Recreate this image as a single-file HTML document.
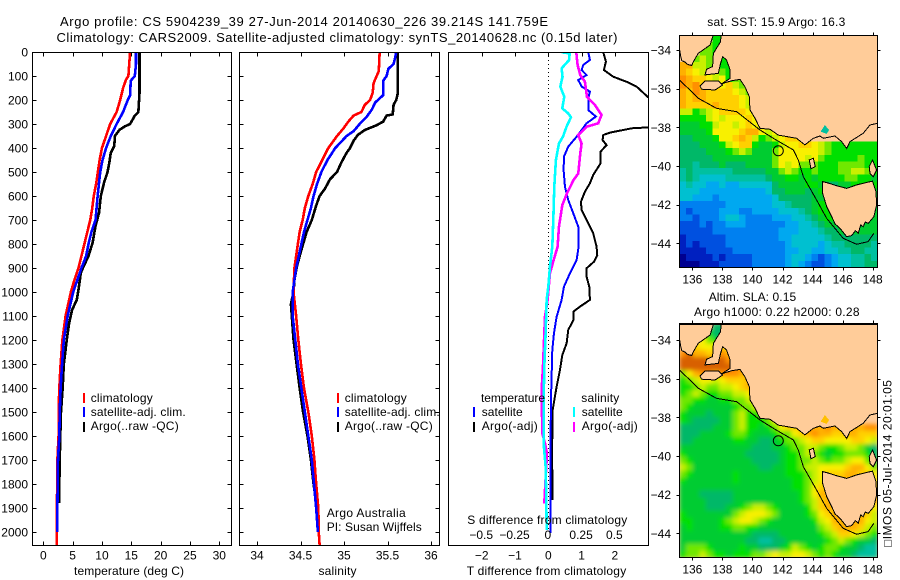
<!DOCTYPE html>
<html lang="en">
<head>
<meta charset="utf-8">
<title>Argo profile CS 5904239_39</title>
<style>
html,body{margin:0;padding:0;background:#fff;}
svg{display:block;}
text{font-family:"Liberation Sans",sans-serif;font-size:12px;fill:#000;}
</style>
</head>
<body>
<svg id="chart" width="900" height="580" viewBox="0 0 900 580" xmlns="http://www.w3.org/2000/svg">
  <defs>
    <clipPath id="clip-temp"><rect x="32" y="52" width="199.5" height="493"/></clipPath>
    <clipPath id="clip-sal"><rect x="239.5" y="52" width="200" height="493"/></clipPath>
    <clipPath id="clip-diff"><rect x="448.5" y="52" width="200" height="493"/></clipPath>
    <clipPath id="clip-map-sst"><rect x="679.5" y="35.5" width="198" height="232"/></clipPath>
    <clipPath id="clip-map-sla"><rect x="679.5" y="323.5" width="198" height="234"/></clipPath>
    <filter id="soften-sla" filterUnits="userSpaceOnUse" x="660" y="305" width="240" height="270">
      <feGaussianBlur stdDeviation="2.2" edgeMode="duplicate"/>
    </filter>
  </defs>
  <rect x="0" y="0" width="900" height="580" fill="#fff"/>
  <g id="layer-heat"></g>
  <g id="layer-lines"></g>
  <g id="layer-axes"></g>

  <text x="60" y="26" style="font-size:13px" textLength="488" lengthAdjust="spacing">Argo profile: CS 5904239_39 27-Jun-2014 20140630_226 39.214S 141.759E</text>
  <text x="56.5" y="42" style="font-size:13px" textLength="561" lengthAdjust="spacing">Climatology: CARS2009. Satellite-adjusted climatology: synTS_20140628.nc (0.15d later)</text>

  <text x="74" y="575" textLength="110" lengthAdjust="spacing">temperature (deg C)</text>
  <text x="318.5" y="575" textLength="38" lengthAdjust="spacing">salinity</text>
  <text x="466.7" y="575" textLength="159.5" lengthAdjust="spacing">T difference from climatology</text>
  <text x="467.3" y="524" textLength="160" lengthAdjust="spacing">S difference from climatology</text>

  <g>
    <rect x="83" y="393" width="2" height="10" fill="#f00"/>
    <text x="90.7" y="402" textLength="62" lengthAdjust="spacing">climatology</text>
    <rect x="83" y="407" width="2" height="10" fill="#00f"/>
    <text x="90.7" y="416" textLength="95" lengthAdjust="spacing">satellite-adj. clim.</text>
    <rect x="83" y="422" width="2" height="10" fill="#000"/>
    <text x="90.7" y="430" textLength="88" lengthAdjust="spacing">Argo(..raw -QC)</text>
  </g>
  <g>
    <rect x="337" y="393" width="2" height="10" fill="#f00"/>
    <text x="344.7" y="402" textLength="62" lengthAdjust="spacing">climatology</text>
    <rect x="337" y="407" width="2" height="10" fill="#00f"/>
    <text x="344.7" y="416" textLength="95" lengthAdjust="spacing">satellite-adj. clim.</text>
    <rect x="337" y="422" width="2" height="10" fill="#000"/>
    <text x="344.7" y="430" textLength="88" lengthAdjust="spacing">Argo(..raw -QC)</text>
  </g>
  <text x="326.7" y="517" textLength="79" lengthAdjust="spacing">Argo Australia</text>
  <text x="326.7" y="531" textLength="95" lengthAdjust="spacing">PI: Susan Wijffels</text>

  <g>
    <text x="481" y="402" textLength="64" lengthAdjust="spacing">temperature</text>
    <rect x="473" y="407" width="2" height="10" fill="#00f"/>
    <text x="481.7" y="416" textLength="41" lengthAdjust="spacing">satellite</text>
    <rect x="473" y="422" width="2" height="10" fill="#000"/>
    <text x="481.7" y="430" textLength="56" lengthAdjust="spacing">Argo(-adj)</text>
    <text x="581.3" y="402" textLength="38" lengthAdjust="spacing">salinity</text>
    <rect x="573" y="407" width="2" height="10" fill="#0ff"/>
    <text x="581.7" y="416" textLength="41" lengthAdjust="spacing">satellite</text>
    <rect x="573" y="422" width="2" height="10" fill="#f0f"/>
    <text x="581.7" y="430" textLength="56" lengthAdjust="spacing">Argo(-adj)</text>
  </g>

  <text x="707.3" y="26" textLength="138" lengthAdjust="spacing">sat. SST: 15.9 Argo: 16.3</text>
  <text x="708.7" y="301" textLength="87.5" lengthAdjust="spacing">Altim. SLA: 0.15</text>
  <text x="694" y="316" textLength="165.5" lengthAdjust="spacing">Argo h1000: 0.22 h2000: 0.28</text>
  <text transform="translate(891.5,547) rotate(-90)" x="0" y="0" textLength="167" lengthAdjust="spacing">□IMOS 05-Jul-2014 20:01:05</text>

<script>
// ---------- profile data (depth in dbar, temperature deg C, salinity psu) ----------
const climTempDepth = [0,100,115,150,200,250,300,350,400,450,500,550,600,650,700,750,800,850,900,950,1000,1100,1200,1300,1400,1500,1600,1700,1800,1900,2000,2054];
const climTempValues = [14.8,14.5,14.1,13.6,13.1,12.5,11.4,10.7,10,9.6,9.3,9,8.6,8.35,8,7.5,7,6.5,6,5.3,4.7,3.8,3.25,2.95,2.73,2.6,2.6,2.4,2.4,2.27,2.27,2.27];
const satTempDepth = [0,50,100,120,180,200,250,300,350,400,450,500,600,700,750,800,850,900,950,1000,1100,1200,1300,1400,1500,1600,1700,1800,1900,2000];
const satTempValues = [15.8,15.8,15.6,14.9,14.8,14.4,13.6,12.5,11.5,10.7,10.1,9.7,9.26,8.9,8.2,7.7,7.3,6.5,5.8,5.1,4.15,3.5,3.2,2.95,2.8,2.73,2.5,2.45,2.4,2.4];
const argoTempDepth = [0,170,250,265,300,310,324,350,392,420,462,505,540,600,670,725,795,850,892,920,990,1033,1075,1130,1200,1300,1400,1505,1658,1880];
const argoTempValues = [16.4,16.4,16.2,15.6,14.8,13.9,13,12.2,12.1,11.5,11.25,10.9,10.4,9.8,9.5,8.9,8.4,7.7,6.9,6.4,6,5.7,4.9,4.4,4,3.5,3.3,3,2.84,2.67];

const climSalDepth = [0,80,100,130,170,200,220,250,265,290,320,350,400,450,500,550,600,650,700,750,800,850,900,1000,1100,1200,1300,1400,1500,1600,1700,1800,1900,2000,2054];
const climSalValues = [35.41,35.4,35.375,35.34,35.33,35.3,35.24,35.2,35.11,35.05,34.99,34.92,34.82,34.75,34.68,34.64,34.59,34.55,34.525,34.49,34.47,34.45,34.43,34.42,34.45,34.475,34.505,34.54,34.59,34.63,34.66,34.68,34.705,34.71,34.72];
const satSalDepth = [0,20,50,70,100,120,150,180,210,240,270,300,330,350,400,450,500,550,600,650,700,750,800,850,900,1000,1100,1200,1300,1400,1500,1600,1700,1800,1900,2000];
const satSalValues = [35.6,35.59,35.57,35.51,35.49,35.45,35.45,35.45,35.36,35.32,35.26,35.18,35.11,35.03,34.9,34.81,34.74,34.69,34.65,34.62,34.58,34.54,34.51,34.48,34.45,34.41,34.41,34.44,34.47,34.51,34.55,34.59,34.63,34.655,34.68,34.7];
const argoSalDepth = [0,170,200,220,260,265,290,305,325,345,370,400,420,460,500,530,570,600,640,700,750,800,850,900,950,1000,1050,1100,1200,1300,1400,1500,1600,1700,1800,1900,1950];
const argoSalValues = [35.62,35.62,35.6,35.57,35.56,35.49,35.45,35.375,35.24,35.16,35.11,35.07,35.03,34.97,34.92,34.84,34.78,34.72,34.68,34.63,34.57,34.53,34.49,34.455,34.43,34.42,34.39,34.4,34.42,34.455,34.49,34.53,34.58,34.62,34.65,34.69,34.705];

const diffTSatDepth = [1,33,54,75,96,117,144,165,193,242,269,297,353,394,436,492,561,617,672,728,811,867,922,978,1033,1103,1172,1242,1450,1728,2005];
const diffTSatValues = [1.2,1.25,1.05,1,1.15,0.9,1,1.25,1.2,1.2,1.43,1.15,0.85,0.6,0.47,0.46,0.5,0.6,0.75,0.9,0.91,0.85,0.65,0.47,0.4,0.25,0.17,0.12,0.08,0.06,0.06];
const diffTArgoDepth = [1,40,75,103,124,144,189,221,269,300,314,318,336,346,367,388,415,464,512,547,582,624,658,700,756,811,846,874,901,936,978,1033,1061,1082,1117,1158,1214,1263,1325,1394,1492,1589,1631,1756,1867];
const diffTArgoValues = [1.65,1.73,1.67,1.95,2.35,2.65,3,3.4,3.6,3.3,3,2.5,1.85,1.65,1.63,1.75,1.57,1.57,1.35,1.25,1.1,0.98,1,1.15,1.35,1.45,1.47,1.37,1.15,1.15,1.23,1.25,0.95,0.75,0.75,0.6,0.55,0.42,0.35,0.25,0.13,0.13,0.11,0.12,0.12];
const diffSSatDepth = [1,6,33,68,103,144,186,235,256,272,311,353,381,450,561,700,811,894,978,1033,1172,1311,1450,1589,1651,1728,1867,1992];
const diffSSatValues = [0.1,0.16,0.157,0.1,0.107,0.09,0.12,0.105,0.15,0.17,0.137,0.11,0.08,0.057,0.045,0.0375,0.03,0.0125,0,-0.0125,-0.02,-0.03,-0.035,-0.035,-0.032,-0.02,-0.015,-0.012];
const diffSArgoDepth = [1,54,96,124,186,221,262,297,311,346,381,422,506,533,589,638,728,811,867,922,1033,1103,1172,1311,1408,1589,1631,1672,1881];
const diffSArgoValues = [0.21,0.22,0.24,0.275,0.29,0.35,0.4,0.375,0.29,0.225,0.25,0.24,0.225,0.19,0.14,0.105,0.08,0.07,0.04,0.0125,-0.005,-0.025,-0.03,-0.04,-0.05,-0.045,-0.025,-0.01,-0.03];

// ---------- tick labels ----------
const depthTicks = [0,100,200,300,400,500,600,700,800,900,1000,1100,1200,1300,1400,1500,1600,1700,1800,1900,2000];
const tempTicks = [0,5,10,15,20,25,30];
const salTicks = [34,34.5,35,35.5,36];
const diffTTicks = [-2,-1,0,1,2];
const diffSTicks = [-0.5,-0.25,0,0.25,0.5];
const lonTicks = [136,138,140,142,144,146,148];
const latTicks = [-34,-36,-38,-40,-42,-44];

// ---------- map data: colour-level codes per row, north to south ----------
const levelColours = {A:'#000090',B:'#0020c0',C:'#0050e0',D:'#0080f0',E:'#00a8f0',F:'#00c0d0',G:'#00c0a0',H:'#00b868',I:'#00cc30',J:'#00e000',K:'#70e800',L:'#c8f000',M:'#f8f000',N:'#ffd000',O:'#ffb000',P:'#ff9000',Q:'#d86000'};
const sstRows = [
'.....JJ',
'....KJJ',
'...KKJJ',
'..KLKJJJJ',
'OOLLKKJJJJ',
'ONMLMLKJKK',
'PONNMLMJKKJ',
'POPNNMMNLKJ',
'ONPONNNNMLKJ',
'ONOONNNNNMLK',
'ONNNNONNNMLJ',
'LLJKLMNNNNMMN',
'JJJJLMLMMMNMMN',
'IIIJJLMMLMNMLM',
'IIIIJMMMMNOOMLMN',
'HHIIIJMMNONLJKLMNN',
'HHHIIIJLMNNJIIJLMMNNMLKJJJJJJJ',
'HHHHIIIJKLKIIIKMMMMMMLKJJJJJJJ',
'HHHHHIIIIIIIIIKMMMMLMKJJJJJKJJ',
'HHGHHHIHHHIIIIKMLMKKKJJJKKKKJJ',
'GHGGGGGGHHHHHIIKLKJJKJJJKKLLKJ',
'GHGFFFFGGGGGGHIIJJIJIJJJJKKJJI',
'FGFFEEFEEFFFFFHIIIIJJIHHIIJJJJ',
'FFFEEEEEEEEEEFHHIIIHIJIIIIIIII',
'FFEEEDEEEEEEEEFHHHHHIIIIIIIIII',
'DDDDDDDEEEEEEEFFGHHHIJJJJJIIII',
'DCDDDDEEEDDEEEEFFFGHIJJJJJJJII',
'DDCDDDEFFEDDDDEEEFFGHIJJJJJJII',
'CCCDCDDEEEDDDDDDEEFFGHIIIIIIII',
'CCCCCDDDDDDDDDDEEEFFFGHHIIIIII',
'BCCCCCCDDDDDDDDEEFFFFFGHHHHHHH',
'BCBCCCCDDDDDDDDDEFFFFEFGGHHHHG',
'BBBBCCCCDDDDDDDDEEFFEEFFGGHHGG',
'ABBBBCBCCCCDDDDDEFFEDCDEFFGGHG',
'AAABBBCCCCCDDDDDEFEDCCDEFFGGHH'
];
const slaRows = [
'.....HH',
'....JHH',
'...MKJI',
'..NMMMNM',
'PQOONOPOO',
'QQQQQQQPPO',
'QQQQQQQQPPO',
'KMOPPOPPPOOP',
'JKLMMLMNNNOPQ',
'JJKLKKLLMNOPQ',
'JKLKJJKKLLMOPQ',
'KKJJIIJJKKLMOP',
'KJIIIIIIJKKLNOP',
'JIIIHIIIKLJJKMOP',
'JIHHHHIIKLJJJKMNOQ',
'HHHHHIIIKLJJIJKMNNOPOOPOOOOOPP',
'HHHIIIIJKKJIIIJKKMNOPOONNOONNN',
'HHIIIIIIJJIIHHIJKKLMNNMMMMNNML',
'IIIIIIIIIIIHHHIIJKKLLKJJKLLKIH',
'JIIIIIIIIIHHHHHIJJKLKJIJJKKKJH',
'KJIIIIIIIIIHHHHIJJKKLKJKKLMMKI',
'LKIIIIIIIIIIHHIIJJKLLMMMMNOOMK',
'KJIIIIIIJIIIIIIIJJJKLMNNNOONNM',
'JIIIIIIIJIIIIIIIIJJKLMOOOOOOOM',
'IIIIIIIIIIIIIIIIIJJKMNNNNNNNNN',
'IIIHHHHHIIIIIIIIIIJKMOOOOOOOOO',
'IIIIHHHHIIIIIIIIIIJKLNOOOOOOOO',
'IIIIHHHIIJKLLKJIIIIJLNOOOOOOOM',
'JIIIIIIIKLMMMLKIIIIJKMNOOOOONL',
'JJIIIIJKLMMLKJIIIIIIJLMOOOOOML',
'IJIIIIJJKKJJIIIIIIIIIKLNOOONLK',
'IIIIIIIIIIIHHHHIIIIIIJKLNNMLKJ',
'IIIIIIIIIIHHGGHHIIIIIIJKLKJIIH',
'IKKKJIIIIJIIHHHIJLKJIJKKJIIHGG',
'JKKLKJJIJJJKKLMLLMMLKJKJIIHGGG'
];

// ---------- geography: [longitude, latitude] ----------
const mainlandCoast = [[135.14,-33.2],[135.14,-33.91],[135.22,-34.3],[135.3,-34.55],[135.5,-34.62],[135.7,-34.75],[135.96,-34.8],[136.07,-34.6],[136.4,-34.17],[137.18,-33.74],[137.4,-33.2],[137.91,-33.2],[137.88,-33.57],[137.4,-34.17],[137.35,-34.86],[136.95,-35],[136.84,-35.29],[137.73,-35.21],[137.88,-34.69],[138.02,-34.34],[138.28,-34.52],[138.51,-35.03],[138.51,-35.47],[137.95,-35.75],[138.62,-35.59],[139.17,-35.52],[139.5,-35.9],[139.79,-36.41],[139.84,-37.1],[140.17,-37.53],[140.39,-37.88],[140.5,-38.05],[141.17,-38.1],[141.72,-38.4],[142.94,-38.57],[143.49,-38.91],[144.05,-38.57],[144.49,-38.45],[144.71,-38.57],[145.49,-38.45],[145.93,-38.74],[146.27,-39.09],[146.49,-38.74],[147.37,-38.31],[147.82,-37.88],[148.31,-37.79],[148.31,-33.2]];
const kangarooIsland = [[136.51,-35.86],[136.84,-35.6],[137.73,-35.6],[138.02,-35.81],[137.51,-36.07],[136.62,-36.03]];
const kingIsland = [[143.78,-39.69],[144.05,-39.6],[144.18,-40.03],[143.89,-40.14]];
const flindersIsland = [[147.77,-40.03],[147.99,-39.69],[148.26,-40.21],[148.04,-40.55],[147.82,-40.38]];
const tasmania = [[144.67,-40.81],[144.94,-40.86],[145.6,-41.02],[146.27,-41.16],[146.93,-40.98],[147.99,-40.78],[148.22,-41.33],[148.26,-42.02],[148.08,-42.62],[147.7,-42.97],[147.5,-42.9],[147.37,-43.14],[147.2,-43.05],[147.04,-43.48],[146.85,-43.35],[146.6,-43.6],[146.27,-43.66],[145.82,-43.22],[145.5,-43],[145.27,-42.62],[144.94,-42.1],[144.67,-41.41]];
const portPhillipBay = [[144.54,-38.22],[144.82,-37.88],[145.09,-38.14],[144.94,-38.34]];
const depthContour = [[135.14,-35.55],[135.84,-36.07],[136.4,-36.5],[137.62,-37.02],[138.95,-37.19],[140.5,-38.14],[141.39,-38.57],[142.72,-39.17],[143.05,-39.69],[143.38,-40.55],[144.27,-41.76],[144.94,-42.71],[146.04,-43.74],[146.93,-44.05],[147.7,-43.91],[148.08,-43.48]];
const argoPosition = [141.72,-39.214];

// ---------- axis functions ----------
const SVGNS = 'http://www.w3.org/2000/svg';
const depthY = d => 52 + 0.24 * d;
const tempX = v => 43.3 + 5.867 * v;
const salX = v => 257 + 87 * (v - 34);
const diffTX = v => 548.3 + 33.3 * v;
const diffSX = v => 548.3 + 133.2 * v;
const lonX = lon => 692.33 + 15.03 * (lon - 136);
const latYTop = lat => 50 + 19.33 * (-34 - lat);
const latYBottom = lat => 340 + 19.33 * (-34 - lat);

const heatLayer = document.getElementById('layer-heat');
const lineLayer = document.getElementById('layer-lines');
const axisLayer = document.getElementById('layer-axes');

function make(tag, parent) {
  const el = document.createElementNS(SVGNS, tag);
  parent.appendChild(el);
  return el;
}

function drawProfile(depths, values, xFn, colour, width, clipId, name) {
  const el = make('polyline', lineLayer);
  
  
  el.setAttribute('points', values.map((v, i) => xFn(v).toFixed(2) + ',' + depthY(depths[i]).toFixed(2)).join(' '));
  el.setAttribute('fill', 'none');
  el.setAttribute('stroke', colour);
  el.setAttribute('stroke-width', width);
  el.setAttribute('clip-path', 'url(#' + clipId + ')');
  el.setAttribute('shape-rendering', 'crispEdges');
}

function tickLine(x1, y1, x2, y2, name) {
  const el = make('line', axisLayer);
  
  
  el.setAttribute('x1', x1);
  el.setAttribute('y1', y1);
  el.setAttribute('x2', x2);
  el.setAttribute('y2', y2);
  el.setAttribute('stroke', '#000');
  el.setAttribute('stroke-width', 1);
  el.setAttribute('shape-rendering', 'crispEdges');
}

function label(x, y, str, anchor, name) {
  const el = make('text', axisLayer);
  
  
  el.setAttribute('x', x);
  el.setAttribute('y', y);
  el.setAttribute('text-anchor', anchor);
  el.textContent = String(str).replace('-', '\u2212');
}

function frame(x, y, w, h, name) {
  const el = make('rect', axisLayer);
  
  
  el.setAttribute('x', x);
  el.setAttribute('y', y);
  el.setAttribute('width', w);
  el.setAttribute('height', h);
  el.setAttribute('fill', 'none');
  el.setAttribute('stroke', '#000');
  el.setAttribute('stroke-width', 1);
  el.setAttribute('shape-rendering', 'crispEdges');
}

// ---------- profile panels ----------
drawProfile(argoTempDepth, argoTempValues, tempX, '#000', 2.6, 'clip-temp', 'temperature-argo-line');
drawProfile(climTempDepth, climTempValues, tempX, '#f00', 2.6, 'clip-temp', 'temperature-climatology-line');
drawProfile(satTempDepth, satTempValues, tempX, '#00f', 2.6, 'clip-temp', 'temperature-satellite-line');
drawProfile(argoSalDepth, argoSalValues, salX, '#000', 2.6, 'clip-sal', 'salinity-argo-line');
drawProfile(climSalDepth, climSalValues, salX, '#f00', 2.6, 'clip-sal', 'salinity-climatology-line');
drawProfile(satSalDepth, satSalValues, salX, '#00f', 2.6, 'clip-sal', 'salinity-satellite-line');

const zeroLine = make('line', lineLayer);


zeroLine.setAttribute('x1', diffTX(0));
zeroLine.setAttribute('x2', diffTX(0));
zeroLine.setAttribute('y1', depthY(0));
zeroLine.setAttribute('y2', depthY(2000));
zeroLine.setAttribute('stroke', '#000');
zeroLine.setAttribute('stroke-width', 1);
zeroLine.setAttribute('stroke-dasharray', '1 3');
zeroLine.setAttribute('shape-rendering', 'crispEdges');

drawProfile(diffTArgoDepth, diffTArgoValues, diffTX, '#000', 2, 'clip-diff', 't-difference-argo-line');
drawProfile(diffTSatDepth, diffTSatValues, diffTX, '#00f', 2, 'clip-diff', 't-difference-satellite-line');
drawProfile(diffSArgoDepth, diffSArgoValues, diffSX, '#f0f', 2.6, 'clip-diff', 's-difference-argo-line');
drawProfile(diffSSatDepth, diffSSatValues, diffSX, '#0ff', 2.6, 'clip-diff', 's-difference-satellite-line');

frame(32.5, 52.5, 199, 493, 'temperature-panel-frame');
frame(239.5, 52.5, 200, 493, 'salinity-panel-frame');
frame(448.5, 52.5, 200, 493, 'difference-panel-frame');

depthTicks.forEach(d => {
  const y = Math.round(depthY(d)) + 0.5;
  tickLine(32.5, y, 36.5, y, 'temperature-depth-tick');
  tickLine(227.5, y, 231.5, y, 'temperature-depth-tick');
  tickLine(239.5, y, 243.5, y, 'salinity-depth-tick');
  tickLine(435.5, y, 439.5, y, 'salinity-depth-tick');
  label(28, depthY(d) + 4.5, d, 'end', 'depth-tick-label');
});
tempTicks.forEach(v => {
  const x = Math.round(tempX(v)) + 0.5;
  tickLine(x, 52.5, x, 56.5, 'temperature-top-tick');
  tickLine(x, 541.5, x, 545.5, 'temperature-bottom-tick');
  label(tempX(v), 559.5, v, 'middle', 'temperature-tick-label');
});
salTicks.forEach(v => {
  const x = Math.round(salX(v)) + 0.5;
  tickLine(x, 52.5, x, 56.5, 'salinity-top-tick');
  tickLine(x, 541.5, x, 545.5, 'salinity-bottom-tick');
  label(salX(v), 559.5, v, 'middle', 'salinity-tick-label');
});
diffTTicks.forEach(v => {
  const x = Math.round(diffTX(v)) + 0.5;
  tickLine(x, 52.5, x, 56.5, 't-difference-top-tick');
  label(diffTX(v), 559.5, v, 'middle', 't-difference-tick-label');
});
diffSTicks.forEach(v => {
  label(diffSX(v) - 0.5, 539, v, 'middle', 's-difference-tick-label');
});

// ---------- maps ----------
function pointsOf(coords, latFn) {
  return coords.map(c => lonX(c[0]).toFixed(1) + ',' + latFn(c[1]).toFixed(1)).join(' ');
}

function drawHeat(rows, x0, y0, w, h, clipId, filterId, name) {
  const clipGroup = make('g', heatLayer);
  
  
  clipGroup.setAttribute('clip-path', 'url(#' + clipId + ')');
  const group = make('g', clipGroup);
  
  
  if (filterId) group.setAttribute('filter', 'url(#' + filterId + ')');
  const ch = h / rows.length;
  const cw = w / 30;
  rows.forEach((row, r) => {
    Array.from(row).forEach((code, c) => {
      if (!levelColours[code]) return;
      const cell = make('rect', group);
      
      
      cell.setAttribute('x', (x0 + c * cw).toFixed(2));
      cell.setAttribute('y', (y0 + r * ch).toFixed(2));
      cell.setAttribute('width', (cw + 0.6).toFixed(2));
      cell.setAttribute('height', (ch + 0.6).toFixed(2));
      cell.setAttribute('fill', levelColours[code]);
      cell.setAttribute('shape-rendering', 'crispEdges');
    });
  });
}

function drawLand(coords, latFn, fill, clipId, name) {
  const el = make('polygon', heatLayer);
  
  
  el.setAttribute('points', pointsOf(coords, latFn));
  el.setAttribute('fill', fill);
  el.setAttribute('stroke', '#000');
  el.setAttribute('stroke-width', 1);
  el.setAttribute('clip-path', 'url(#' + clipId + ')');
  el.setAttribute('shape-rendering', 'crispEdges');
}

function drawMap(rows, x0, y0, w, h, latFn, clipId, filterId, bayColour, prefix) {
  const bg = make('rect', heatLayer);
  
  
  bg.setAttribute('x', x0);
  bg.setAttribute('y', y0);
  bg.setAttribute('width', w);
  bg.setAttribute('height', h);
  bg.setAttribute('fill', '#ffcc99');
  drawHeat(rows, x0, y0, w, h, clipId, filterId, prefix + '-heatmap');
  drawLand(mainlandCoast, latFn, '#ffcc99', clipId, prefix + '-mainland');
  drawLand(kangarooIsland, latFn, '#ffcc99', clipId, prefix + '-kangaroo-island');
  drawLand(kingIsland, latFn, '#ffcc99', clipId, prefix + '-king-island');
  drawLand(flindersIsland, latFn, '#ffcc99', clipId, prefix + '-flinders-island');
  drawLand(tasmania, latFn, '#ffcc99', clipId, prefix + '-tasmania');

  const bay = make('polygon', heatLayer);
  
  
  bay.setAttribute('points', pointsOf(portPhillipBay, latFn));
  bay.setAttribute('fill', bayColour);
  bay.setAttribute('shape-rendering', 'crispEdges');

  const contour = make('polyline', heatLayer);
  
  
  contour.setAttribute('points', pointsOf(depthContour, latFn));
  contour.setAttribute('fill', 'none');
  contour.setAttribute('stroke', '#000');
  contour.setAttribute('stroke-width', 1);
  contour.setAttribute('clip-path', 'url(#' + clipId + ')');
  contour.setAttribute('shape-rendering', 'crispEdges');

  const marker = make('circle', heatLayer);
  
  
  marker.setAttribute('cx', lonX(argoPosition[0]));
  marker.setAttribute('cy', latFn(argoPosition[1]));
  marker.setAttribute('r', 5);
  marker.setAttribute('fill', 'none');
  marker.setAttribute('stroke', '#000');
  marker.setAttribute('stroke-width', 1);

  frame(x0, y0, w, h, prefix + '-map-frame');

  lonTicks.forEach(lon => {
    const x = Math.round(lonX(lon)) + 0.5;
    tickLine(x, y0 - 3, x, y0, prefix + '-top-tick');
    tickLine(x, y0 + h, x, y0 + h + 3, prefix + '-bottom-tick');
    label(lonX(lon), y0 + h + 16, lon, 'middle', prefix + '-longitude-label');
  });
  latTicks.forEach(lat => {
    const y = Math.round(latFn(lat)) + 0.5;
    tickLine(x0 - 3, y, x0, y, prefix + '-left-tick');
    tickLine(x0 + w, y, x0 + w + 3, y, prefix + '-right-tick');
    label(671, latFn(lat) + 4.5, lat, 'end', prefix + '-latitude-label');
  });
}

drawMap(sstRows, 679.5, 35.5, 198, 232, latYTop, 'clip-map-sst', null, '#00c0a0', 'sst');
drawMap(slaRows, 679.5, 323.5, 198, 234, latYBottom, 'clip-map-sla', 'soften-sla', '#ffc000', 'sla');
</script>
</svg>
</body>
</html>
